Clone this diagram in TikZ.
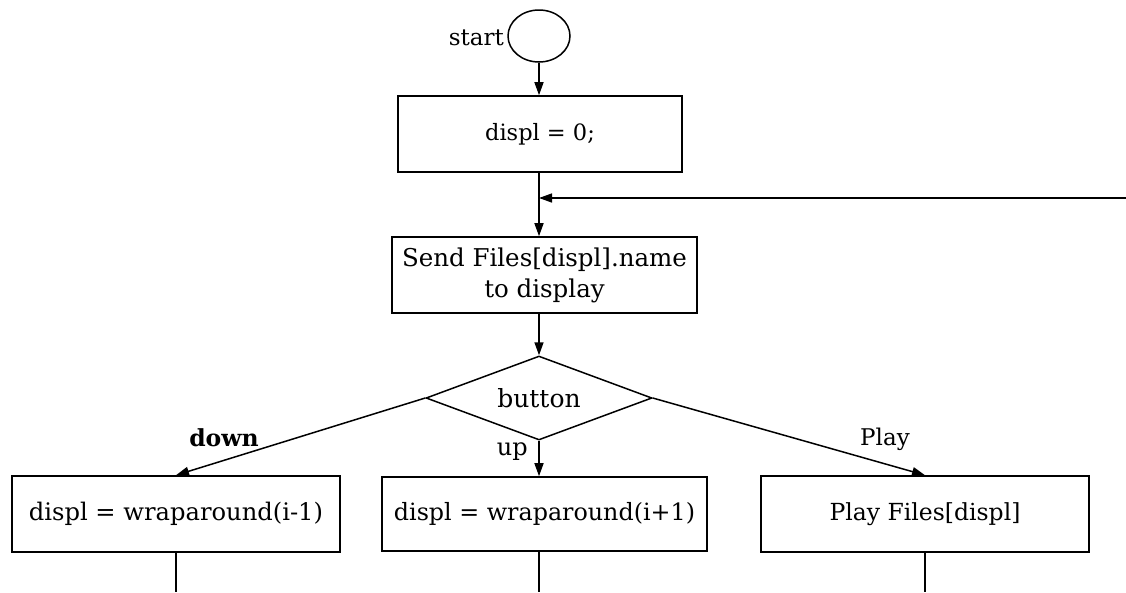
\documentclass[tikz,border=0pt]{standalone}
\usepackage{fontspec}
\setmainfont{DejaVu Serif}
\usetikzlibrary{shapes.geometric,arrows.meta}
\begin{document}
\begin{tikzpicture}[x=1pt,y=-1pt,
  box/.style={draw,line width=1.6pt,inner sep=0pt,align=center},
  arr/.style={-{Triangle[length=13pt,width=9pt]},line width=1.5pt},
  ln/.style={line width=1.5pt},
  lbl/.style={inner sep=0pt}]
\useasboundingbox (0,0) rectangle (1126,592);
\node[draw,ellipse,line width=1.5pt,minimum width=62pt,minimum height=52pt,inner sep=0pt] (start) at (539,36) {};
\node[lbl,anchor=east,font=\fontsize{23}{26}\selectfont] (startl) at (504,38) {start};
\node[box,minimum width=284pt,minimum height=76pt,font=\fontsize{22.5}{26}\selectfont] (init) at (540,134) {displ = 0;};
\node[box,minimum width=305pt,minimum height=76pt,font=\fontsize{24.5}{31}\selectfont] (send) at (544.5,275) {Send Files[displ].name\\to display};
\node[draw,diamond,line width=1.5pt,minimum width=226pt,minimum height=84pt,inner sep=0pt,
  label={[font=\fontsize{25}{28}\selectfont]center:button}] (btn) at (539,398) {};
\node[box,minimum width=328pt,minimum height=76pt,font=\fontsize{24.2}{28}\selectfont] (dec) at (176,514) {displ = wraparound(i-1)};
\node[box,minimum width=325pt,minimum height=74pt,font=\fontsize{23.8}{28}\selectfont] (inc) at (544.5,514) {displ = wraparound(i+1)};
\node[box,minimum width=328pt,minimum height=76pt,font=\fontsize{23.5}{27}\selectfont] (play) at (925,514) {Play Files[displ]};
\node[lbl,font=\bfseries\fontsize{23.5}{27}\selectfont] (ldown) at (224,438) {down};
\node[lbl,anchor=east,font=\fontsize{24}{27}\selectfont] (lup) at (528,452) {up};
\node[lbl,font=\fontsize{23}{26}\selectfont] (lplay) at (885,439) {Play};
\coordinate (fb) at (1126,198);
\coordinate (j) at (539,198);
\draw[arr] (start) -- (start |- init.north);
\draw[ln] (init.south -| start) -- (j);
\draw[arr] (j) -- (start |- send.north);
\draw[arr] (fb) -- (j);
\draw[arr] (send.south -| start) -- (btn);
\draw[arr] (btn.west) -- (dec.north);
\draw[arr] (btn.south) -- (inc.north -| btn.south);
\draw[arr] (btn.east) -- (play.north);
\draw[ln] (dec.south) -- (dec.south |- 0,592);
\draw[ln] (inc.south -| btn.south) -- (btn.south |- 0,592);
\draw[ln] (play.south) -- (play.south |- 0,592);
\end{tikzpicture}
\end{document}
